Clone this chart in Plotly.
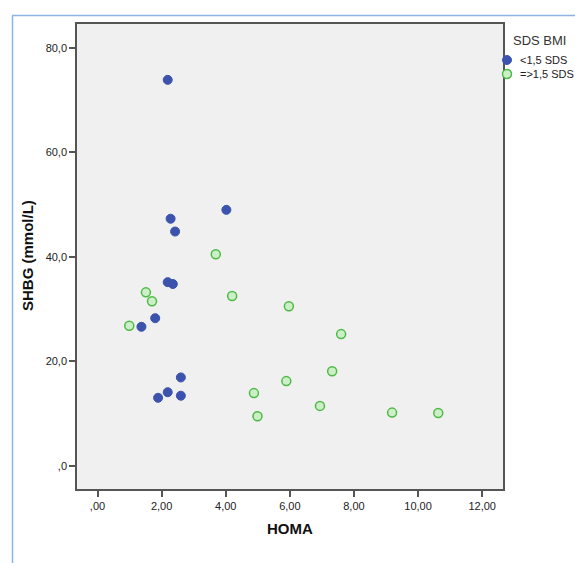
import plotly.graph_objects as go

# Data
homa_low = [2.19, 4.02, 2.28, 2.42, 2.19, 2.35, 1.80, 1.37, 2.60, 2.19, 2.60, 1.89]
shbg_low = [73.9, 49.0, 47.3, 44.85, 35.15, 34.8, 28.25, 26.6, 16.9, 14.07, 13.4, 13.0]

homa_high = [3.69, 1.51, 1.70, 0.99, 4.20, 5.97, 7.60, 7.32, 5.89, 4.88, 6.94, 4.99, 9.19, 10.63]
shbg_high = [40.5, 33.2, 31.5, 26.8, 32.5, 30.55, 25.2, 18.1, 16.2, 13.9, 11.45, 9.47, 10.16, 10.1]

x_ticks = [0, 2, 4, 6, 8, 10, 12]
x_ticklabels = [",00", "2,00", "4,00", "6,00", "8,00", "10,00", "12,00"]
y_ticks = [0, 20, 40, 60, 80]
y_ticklabels = [",0", "20,0", "40,0", "60,0", "80,0"]

series_names = ["<1,5 SDS", "=>1,5 SDS"]
legend_title = "SDS BMI"
x_title = "HOMA"
y_title = "SHBG (mmol/L)"

FONT = "Liberation Sans, Arial, sans-serif"
BLUE = "#3B53AD"
GREEN_FILL = "#CDEFC8"
GREEN_LINE = "#4DBA45"

# page has an 8px body margin; figure coordinates = page coordinates - 8
OFF = 8
W, H = 583 - OFF, 563 - OFF
L, T = 77 - OFF, 24 - OFF
Rr, Bb = 503 - OFF, 489 - OFF
pw, ph = Rr - L, Bb - T


def px(xpage):
    return (xpage - OFF - L) / pw


def py(ypage):
    return 1 - (ypage - OFF - T) / ph


fig = go.Figure()
fig.add_trace(go.Scatter(
    x=homa_low, y=shbg_low, mode="markers", name=series_names[0],
    marker=dict(size=9, color=BLUE, line=dict(width=1, color=BLUE)),
    showlegend=False,
))
fig.add_trace(go.Scatter(
    x=homa_high, y=shbg_high, mode="markers", name=series_names[1],
    marker=dict(size=9, color=GREEN_FILL, line=dict(width=1.5, color=GREEN_LINE)),
    showlegend=False,
))

axis_common = dict(
    showgrid=False, zeroline=False, showline=True, mirror=True,
    linecolor="#555555", linewidth=1.5, ticks="outside", ticklen=6,
    tickcolor="#555555", tickwidth=1.5, automargin=False,
    tickfont=dict(family=FONT, size=11, color="#222222"),
)

shapes = [
    dict(type="line", xref="paper", yref="paper",
         x0=px(12), x1=px(600), y0=py(15.5), y1=py(15.5),
         line=dict(color="#8DB4E2", width=1.5)),
    dict(type="line", xref="paper", yref="paper",
         x0=px(12.5), x1=px(12.5), y0=py(15.5), y1=py(600),
         line=dict(color="#8DB4E2", width=1.5)),
]

# manual legend
legend_rows = [60, 74]
legend_styles = [(BLUE, BLUE, 1), (GREEN_FILL, GREEN_LINE, 1.5)]
annotations = [
    dict(text=legend_title, xref="paper", yref="paper", x=px(511), y=py(40),
         xanchor="left", yanchor="middle", showarrow=False,
         font=dict(family=FONT, size=13, color="#333333")),
    dict(text="<b>" + x_title + "</b>", xref="paper", yref="paper",
         x=px(290), y=py(528.5), xanchor="center", yanchor="middle", showarrow=False,
         font=dict(family=FONT, size=15, color="#111111")),
    dict(text="<b>" + y_title + "</b>", xref="paper", yref="paper",
         x=px(27), y=py(256), xanchor="center", yanchor="middle", showarrow=False,
         textangle=-90, font=dict(family=FONT, size=15, color="#111111")),
]
for name, yrow, (fill, edge, lw) in zip(series_names, legend_rows, legend_styles):
    shapes.append(dict(type="circle", xref="paper", yref="paper",
                       xsizemode="pixel", ysizemode="pixel",
                       xanchor=px(507), yanchor=py(yrow),
                       x0=-4.5, x1=4.5, y0=-4.5, y1=4.5,
                       fillcolor=fill, line=dict(color=edge, width=lw)))
    annotations.append(dict(text=name, xref="paper", yref="paper",
                            x=px(518), y=py(yrow), xanchor="left", yanchor="middle",
                            showarrow=False,
                            font=dict(family=FONT, size=11, color="#222222")))

fig.update_layout(
    width=W, height=H,
    margin=dict(l=L, r=W - Rr, t=T, b=H - Bb, pad=0, autoexpand=False),
    paper_bgcolor="white",
    plot_bgcolor="#F0F0F0",
    font=dict(family=FONT, color="#222222"),
    showlegend=False,
    xaxis=dict(range=[-0.64, 12.65], tickvals=x_ticks, ticktext=x_ticklabels, **axis_common),
    yaxis=dict(range=[-4.47, 84.6], tickvals=y_ticks, ticktext=y_ticklabels, **axis_common),
    shapes=shapes,
    annotations=annotations,
)

fig.write_html("out.html")
